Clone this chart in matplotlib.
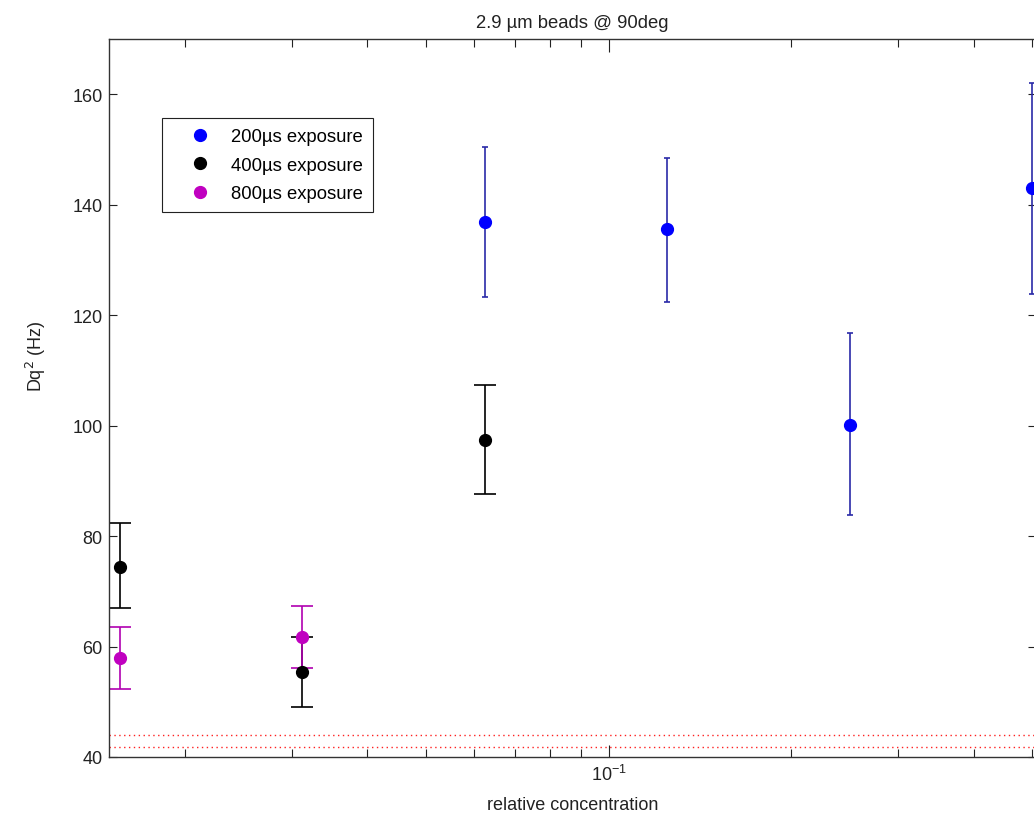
import numpy as np
import matplotlib
matplotlib.use('Agg')
import matplotlib.pyplot as plt
from matplotlib.ticker import LogLocator, NullFormatter, LogFormatterSciNotation

plt.rcParams['font.family'] = ['Liberation Sans', 'DejaVu Sans']

# data
conc_200 = [0.0625, 0.125, 0.25, 0.5]
dq_200 = [136.8, 135.6, 100.1, 143.0]
lo_200 = [123.3, 122.4, 83.8, 123.8]
hi_200 = [150.5, 148.4, 116.8, 162.0]

conc_400 = [0.015625, 0.03125, 0.0625]
dq_400 = [74.4, 55.4, 97.4]
lo_400 = [67.0, 49.0, 87.6]
hi_400 = [82.3, 61.7, 107.3]

conc_800 = [0.015625, 0.03125]
dq_800 = [57.9, 61.7]
lo_800 = [52.3, 56.1]
hi_800 = [63.5, 67.3]

ref_lines = [44.0, 41.8]

fig = plt.figure(figsize=(10.34, 8.2), dpi=100)
ax = fig.add_axes([109 / 1034, 62 / 820, 927 / 1034, 718 / 820])

def draw(x, y, lo, hi, mcol, ecol, cap, label):
    y = np.array(y)
    err = [y - np.array(lo), np.array(hi) - y]
    ax.errorbar(x, y, yerr=err, fmt='none', ecolor=ecol, elinewidth=1.2,
                capsize=cap, capthick=1.2, zorder=2)
    ax.plot(x, y, 'o', color=mcol, markersize=8.5, label=label, zorder=3)

draw(conc_200, dq_200, lo_200, hi_200, '#0000ff', '#2a2aa8', 2.5, '200µs exposure')
draw(conc_400, dq_400, lo_400, hi_400, 'black', 'black', 8, '400µs exposure')
draw(conc_800, dq_800, lo_800, hi_800, '#c000c0', '#b000b0', 8, '800µs exposure')

for yv in ref_lines:
    ax.axhline(yv, color='#ff2020', linestyle=(0, (1, 2.5)), linewidth=1.0, zorder=1)

ax.set_xscale('log')
ax.set_xlim(0.015, 0.507)
ax.set_ylim(40, 170)
ax.set_yticks([40, 60, 80, 100, 120, 140, 160])
ax.xaxis.set_major_locator(LogLocator(base=10))
ax.xaxis.set_minor_locator(LogLocator(base=10, subs=np.arange(2, 10)))
ax.xaxis.set_major_formatter(LogFormatterSciNotation())
ax.xaxis.set_minor_formatter(NullFormatter())

ax.tick_params(axis='both', which='both', direction='in', top=True, right=True,
               labelsize=13, colors='#222222', width=0.8)
ax.tick_params(axis='x', which='major', length=9, pad=5)
ax.tick_params(axis='x', which='minor', length=5.5)
ax.tick_params(axis='y', which='major', length=6, pad=4.5)
for s in ax.spines.values():
    s.set_linewidth(1.0)
    s.set_color('#333333')

ax.set_title('2.9 µm beads @ 90deg', fontsize=13.3, pad=9, color='#222222')
ax.set_xlabel('relative concentration', fontsize=13, color='#222222')
ax.set_ylabel('Dq$^2$ (Hz)', fontsize=13, color='#222222')
ax.xaxis.set_label_coords(0.50, -0.055)
ax.yaxis.set_label_coords(-0.066, 0.56)

leg = ax.legend(loc='upper left', bbox_to_anchor=(162 / 1034, 1 - 119 / 820),
                bbox_transform=fig.transFigure, fontsize=13.3, frameon=True,
                fancybox=False, framealpha=1, edgecolor='#222222',
                borderaxespad=0, handlelength=3.0, handletextpad=0.2,
                labelspacing=0.62, borderpad=0.55, markerscale=1.0)
leg.get_frame().set_linewidth(0.8)

fig.savefig('out.png', dpi=100)
